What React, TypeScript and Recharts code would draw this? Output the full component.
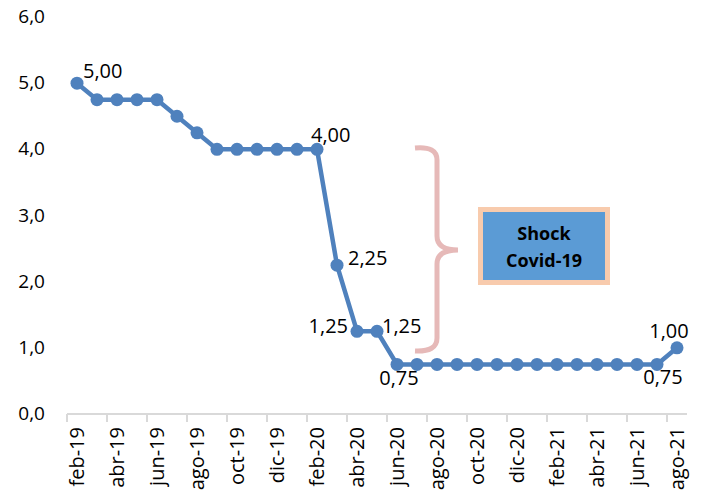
import { LineChart, Line, XAxis, YAxis } from 'recharts';

const months = [
    'feb-19', 'mar-19', 'abr-19', 'may-19', 'jun-19', 'jul-19', 'ago-19', 'sep-19', 'oct-19', 'nov-19', 'dic-19',
    'ene-20', 'feb-20', 'mar-20', 'abr-20', 'may-20', 'jun-20', 'jul-20', 'ago-20', 'sep-20', 'oct-20', 'nov-20', 'dic-20',
    'ene-21', 'feb-21', 'mar-21', 'abr-21', 'may-21', 'jun-21', 'jul-21', 'ago-21',
];
const rates = [
    5.0, 4.75, 4.75, 4.75, 4.75, 4.5, 4.25, 4.0, 4.0, 4.0, 4.0,
    4.0, 4.0, 2.25, 1.25, 1.25, 0.75, 0.75, 0.75, 0.75, 0.75, 0.75, 0.75,
    0.75, 0.75, 0.75, 0.75, 0.75, 0.75, 0.75, 1.0,
];
const yTicks = [0, 1, 2, 3, 4, 5, 6];

// which points get a value label, and where it sits
const labelPlacement: Record<number, { dx: number; dy: number; anchor: string }> = {
    0: { dx: 6, dy: -5, anchor: 'start' },
    12: { dx: -6, dy: -7, anchor: 'start' },
    13: { dx: 11, dy: 0, anchor: 'start' },
    14: { dx: -9, dy: 2, anchor: 'end' },
    15: { dx: 5, dy: 2, anchor: 'start' },
    16: { dx: 2, dy: 21, anchor: 'middle' },
    29: { dx: 6, dy: 20, anchor: 'middle' },
    30: { dx: -8, dy: -10, anchor: 'middle' },
};

const data = months.map((m, i) => ({ month: m, rate: rates[i] }));

const W = 703;
const H = 492;
const TOP = 17;
const XAXIS_H = 78;
const YAXIS_W = 67;
const RIGHT = 16;
const AXIS_Y = H - XAXIS_H;
const HALF_BAND = (W - YAXIS_W - RIGHT) / months.length / 2;

const FONT = '"Open Sans", sans-serif';
const fmt = (v: number, d: number) => v.toFixed(d).replace('.', ',');

function XTick(props: any) {
    const { x, payload } = props;
    return (
        <g>
            <line x1={x - HALF_BAND} x2={x - HALF_BAND} y1={AXIS_Y} y2={AXIS_Y + 8} stroke="#d9d9d9" strokeWidth={2} />
            <text
                x={x + 7}
                y={AXIS_Y + 13}
                transform={`rotate(-90, ${x + 7}, ${AXIS_Y + 13})`}
                textAnchor="end"
                fontSize={20}
                fontFamily={FONT}
                fill="#000"
            >
                {payload.value}
            </text>
        </g>
    );
}

function YTick(props: any) {
    const { x, y, payload } = props;
    return (
        <text x={x - 14} y={y + 6} textAnchor="end" fontSize={19} fontFamily={FONT} fill="#000">
            {fmt(payload.value, 1)}
        </text>
    );
}

function PointLabel(props: any) {
    const { x, y, value, index } = props;
    const p = labelPlacement[index];
    if (!p) return null;
    return (
        <text x={x + p.dx} y={y + p.dy} textAnchor={p.anchor} fontSize={20} fontFamily={FONT} fill="#000">
            {fmt(value, 2)}
        </text>
    );
}

function Annotation() {
    return (
        <svg width={W} height={H} style={{ position: 'absolute', left: 0, top: 0, pointerEvents: 'none' }}>
            <path
                d="M415 148 Q437 146 437 160 L437 236 Q437 250 458 250 Q437 250 437 264 L437 338 Q437 352 415 351"
                fill="none"
                stroke="#e6b9b8"
                strokeWidth={5}
            />
            <rect x={480.5} y={209.5} width={127} height={73} fill="#5b9bd5" stroke="#f8cbad" strokeWidth={5} />
            <text x={544} y={240} textAnchor="middle" fontSize={18} fontWeight="bold" fontFamily={FONT} fill="#000">
                Shock
            </text>
            <text x={544} y={267} textAnchor="middle" fontSize={18} fontWeight="bold" fontFamily={FONT} fill="#000">
                Covid-19
            </text>
        </svg>
    );
}

export default function App() {
    return (
        <div style={{ position: 'absolute', left: 0, top: 0, width: W, height: H, background: '#fff' }}>
            <LineChart width={W} height={H} data={data} margin={{ top: TOP, right: RIGHT, left: 0, bottom: 0 }}>
                <XAxis
                    dataKey="month"
                    interval={1}
                    height={XAXIS_H}
                    padding={{ left: HALF_BAND, right: HALF_BAND }}
                    axisLine={{ stroke: '#d9d9d9', strokeWidth: 2 }}
                    tickLine={false}
                    tick={<XTick />}
                />
                <YAxis
                    domain={[0, 6]}
                    ticks={yTicks}
                    width={YAXIS_W}
                    axisLine={false}
                    tickLine={false}
                    tick={<YTick />}
                />
                <Line
                    type="linear"
                    dataKey="rate"
                    stroke="#4f81bd"
                    strokeWidth={4.5}
                    dot={{ r: 6.5, fill: '#4f81bd', stroke: '#4f81bd', strokeWidth: 0 }}
                    label={<PointLabel />}
                    isAnimationActive={false}
                />
            </LineChart>
            <Annotation />
        </div>
    );
}
